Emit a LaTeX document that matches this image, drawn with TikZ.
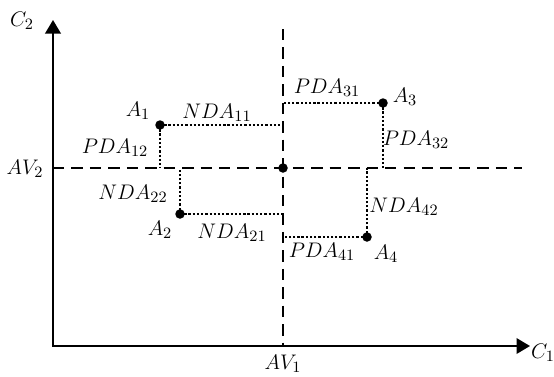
\documentclass[tikz,border=0pt]{standalone}
\usepackage{amsmath}
\usepackage{tikz}
\usetikzlibrary{arrows.meta, positioning, calc}
\tikzset{
  axis/.style={
    {Triangle[length=0.27cm, width=0.31cm]}-{Triangle[length=0.27cm, width=0.31cm]},
    line width=1.2pt
  },
  avline/.style={
    line width=1.05pt,
    dash pattern=on 6.5pt off 4pt
  },
  gap/.style={
    line width=1.4pt,
    dash pattern=on 1.3pt off 1.1pt
  },
  alt/.style={
    circle, fill=black, inner sep=0pt, minimum size=0.19cm
  },
  lbl/.style={
    font=\fontsize{12.5}{14}\selectfont, inner sep=1pt
  }
}

\begin{document}
\begin{tikzpicture}[x=0.02cm, y=-0.02cm]
  \useasboundingbox (0,0) rectangle (554,376);

  % ====== AXES ======
  \coordinate (orig) at (53, 346);
  \coordinate (c2tip) at (53, 20);
  \coordinate (c1tip) at (530, 346);
  \draw[axis] (c2tip) -- (orig) -- (c1tip);
  \node[lbl] (c1) at (543, 353) {$C_1$};
  \node[lbl] (c2) at (22, 21) {$C_2$};

  % ====== AVERAGE LINES ======
  \coordinate (av1top) at (283, 29);
  \coordinate (av1bot) at (283, 346);
  \coordinate (av2left) at (53, 168);
  \coordinate (av2right) at (522, 168);
  \draw[avline] (av1top) -- (av1bot);
  \draw[avline] (av2left) -- (av2right);
  \node[alt] (avg) at (283, 168) {};
  \node[lbl] (av1) at (283, 364) {$AV_1$};
  \node[lbl] (av2) at (25, 169) {$AV_2$};

  % ====== ALTERNATIVES ======
  \node[alt] (a1) at (160, 125) {};
  \node[alt] (a2) at (180, 214) {};
  \node[alt] (a3) at (383, 103) {};
  \node[alt] (a4) at (367, 237) {};

  % ====== DISTANCES ======
  \draw[gap] (a1.center) -- (a1 -| avg);
  \draw[gap] (a1.center) -- (a1 |- avg);
  \draw[gap] (a2.center) -- (a2 -| avg);
  \draw[gap] (a2.center) -- (a2 |- avg);
  \draw[gap] (a3.center) -- (a3 -| avg);
  \draw[gap] (a3.center) -- (a3 |- avg);
  \draw[gap] (a4.center) -- (a4 -| avg);
  \draw[gap] (a4.center) -- (a4 |- avg);

  % ====== LABELS ======
  \node[lbl] at (138, 111) {$A_1$};
  \node[lbl] at (160, 230) {$A_2$};
  \node[lbl] at (405, 97) {$A_3$};
  \node[lbl] at (386, 254) {$A_4$};
  \node[lbl] at (217, 113) {$NDA_{11}$};
  \node[lbl] at (115, 148) {$PDA_{12}$};
  \node[lbl] at (133, 194) {$NDA_{22}$};
  \node[lbl] at (232, 233) {$NDA_{21}$};
  \node[lbl] at (327, 88) {$PDA_{31}$};
  \node[lbl] at (416, 140) {$PDA_{32}$};
  \node[lbl] at (404, 207) {$NDA_{42}$};
  \node[lbl] at (322, 252) {$PDA_{41}$};

\end{tikzpicture}
\end{document}
